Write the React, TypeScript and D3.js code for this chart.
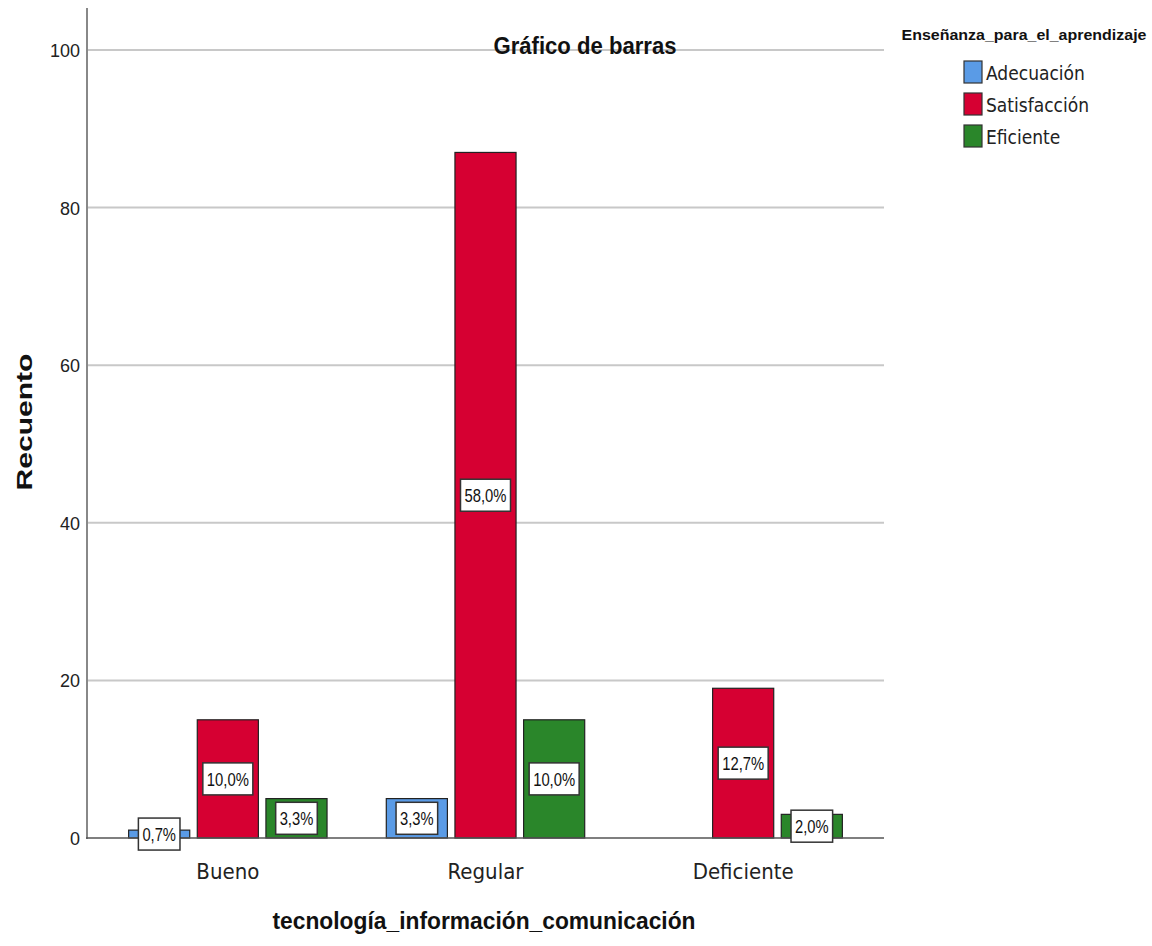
import React from "react";
import * as d3 from "d3";

const categories = ["Bueno", "Regular", "Deficiente"];
const seriesNames = ["Adecuación", "Satisfacción", "Eficiente"];
const adecuacion = [1, 5, 0];
const satisfaccion = [15, 87, 19];
const eficiente = [5, 15, 3];
const adecuacionPct = ["0,7%", "3,3%", ""];
const satisfaccionPct = ["10,0%", "58,0%", "12,7%"];
const eficientePct = ["3,3%", "10,0%", "2,0%"];
const yTicks = [0, 20, 40, 60, 80, 100];
const colors = ["#5a9be6", "#d60032", "#2a862a"];

const W = 1152;
const H = 946;
const SANS = "'Liberation Sans', Arial, sans-serif";
const NARROW = "'Liberation Sans Narrow', 'Arial Narrow', 'DejaVu Sans Condensed', sans-serif";

export default function App() {
  const y = d3.scaleLinear().domain([0, 100]).range([838, 50]);
  const x0 = d3.scaleBand().domain(categories).range([99, 872]).paddingInner(0.23).paddingOuter(0.115);
  const x1 = d3.scaleBand().domain(seriesNames).range([0, x0.bandwidth()]).paddingInner(0.11);
  const series = [
    { name: seriesNames[0], values: adecuacion, pct: adecuacionPct, color: colors[0] },
    { name: seriesNames[1], values: satisfaccion, pct: satisfaccionPct, color: colors[1] },
    { name: seriesNames[2], values: eficiente, pct: eficientePct, color: colors[2] },
  ];
  const bars: any[] = [];
  const labels: any[] = [];
  series.forEach((s) => {
    categories.forEach((c, i) => {
      const v = s.values[i];
      if (v <= 0) return;
      const bx = (x0(c) as number) + (x1(s.name) as number);
      const bw = x1.bandwidth();
      const top = y(v);
      bars.push(
        <rect key={s.name + c} x={bx} y={top} width={bw} height={y(0) - top}
          fill={s.color} stroke="#222" strokeWidth={1.2} />
      );
      const cy = (top + y(0)) / 2;
      const txt = s.pct[i];
      const tl = txt.length * 8.4;
      const tw = tl + 8;
      labels.push(
        <g key={"l" + s.name + c}>
          <rect x={bx + bw / 2 - tw / 2} y={cy - 16} width={tw} height={32}
            fill="#fff" stroke="#333" strokeWidth={1.5} />
          <text x={bx + bw / 2} y={cy + 7} textAnchor="middle" fontSize={19}
            textLength={tl} lengthAdjust="spacingAndGlyphs"
            fontFamily={SANS} fill="#111">{txt}</text>
        </g>
      );
    });
  });

  return (
    <svg width={W} height={H} style={{ position: "absolute", left: 0, top: 0, background: "#fff" }}>
      <rect x={0} y={0} width={W} height={H} fill="#fff" />
      {yTicks.filter((t) => t > 0).map((t) => (
        <line key={"g" + t} x1={87} x2={884} y1={y(t)} y2={y(t)} stroke="#c8c8c8" strokeWidth={2} />
      ))}
      <text x={585} y={54} textAnchor="middle" fontSize={24} fontFamily={SANS} fill="#111"
        fontWeight="bold" textLength={183} lengthAdjust="spacingAndGlyphs">Gráfico de barras</text>
      {bars}
      <line x1={87} x2={87} y1={8} y2={839} stroke="#888" strokeWidth={2} />
      <line x1={86} x2={884} y1={y(0)} y2={y(0)} stroke="#555" strokeWidth={1.5} />
      {yTicks.map((t) => (
        <text key={"t" + t} x={80} y={y(t) + 7} textAnchor="end" fontSize={18}
          textLength={String(t).length * 10} lengthAdjust="spacingAndGlyphs"
          fontFamily={SANS} fill="#222">{t}</text>
      ))}
      {labels}
      {categories.map((c) => (
        <text key={"c" + c} x={(x0(c) as number) + x0.bandwidth() / 2} y={879} textAnchor="middle"
          fontSize={22} fontFamily={NARROW} fill="#222">{c}</text>
      ))}
      <text x={484} y={929} textAnchor="middle" fontSize={24} fontWeight="bold"
        textLength={423} lengthAdjust="spacingAndGlyphs"
        fontFamily={SANS} fill="#111">tecnología_información_comunicación</text>
      <text transform="translate(32,422) rotate(-90)" textAnchor="middle" fontSize={22} fontWeight="bold"
        textLength={137} lengthAdjust="spacingAndGlyphs"
        fontFamily={SANS} fill="#111">Recuento</text>
      <text x={1024} y={40} textAnchor="middle" fontSize={15} fontWeight="bold"
        textLength={245} lengthAdjust="spacingAndGlyphs"
        fontFamily={SANS} fill="#111">Enseñanza_para_el_aprendizaje</text>
      {series.map((s, i) => (
        <g key={"lg" + s.name} transform={`translate(964,${61 + i * 32})`}>
          <rect x={0} y={0} width={18} height={22} fill={s.color} stroke="#333" strokeWidth={1.2} />
          <text x={22} y={19} fontSize={19} fontFamily={NARROW} fill="#222">{s.name}</text>
        </g>
      ))}
    </svg>
  );
}
